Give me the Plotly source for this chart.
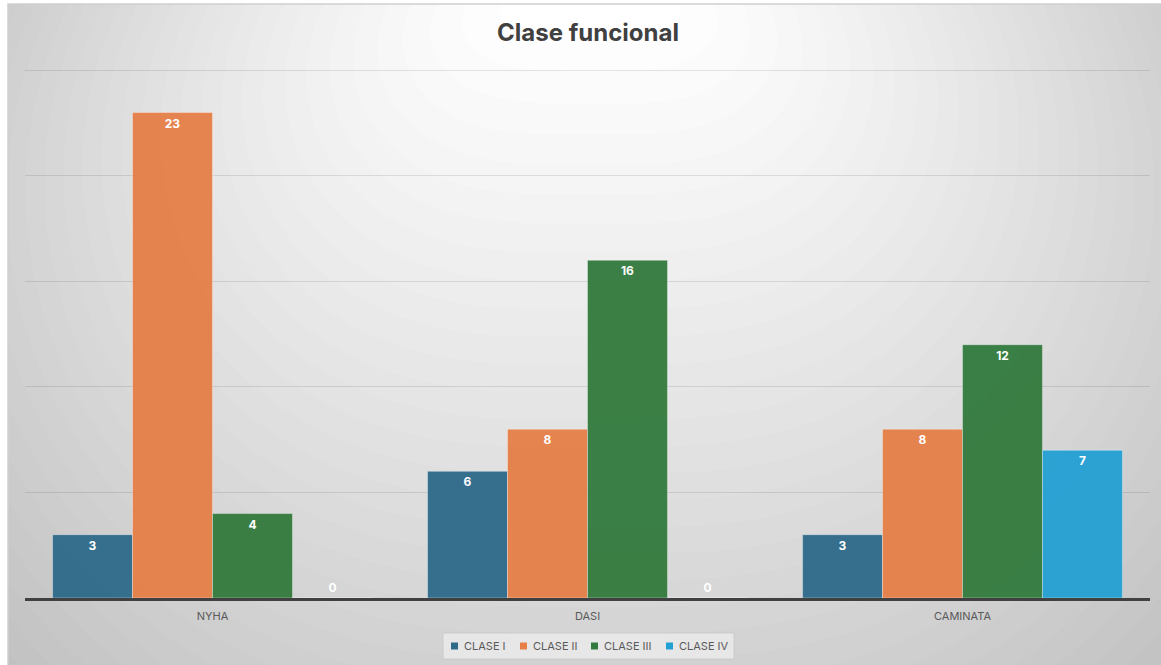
import base64
import struct
import zlib

import numpy as np
import plotly.graph_objects as go

# ---- data ----
categories = ["NYHA", "DASI", "CAMINATA"]
series_names = ["CLASE I", "CLASE II", "CLASE III", "CLASE IV"]
clase_i = [3, 6, 3]
clase_ii = [23, 8, 8]
clase_iii = [4, 16, 12]
clase_iv = [0, 0, 7]
series_values = [clase_i, clase_ii, clase_iii, clase_iv]
series_colors = ["#2e6a8a", "#e67f48", "#327a3d", "#23a0d3"]

# ---- figure geometry (pixels) ----
W, H = 1161, 665
Y_MAX = 25.3
ML, MR, MB = 25, 11, 67
PH = 534
MT = H - MB - PH
PW = W - ML - MR
BOX = (8, 4, W, H)  # chart frame: left, top, right, bottom


def px_to_paper_x(px):
    return (px - ML) / PW


def px_to_paper_y(py):
    return (H - MB - py) / PH


# ---- radial background: wide bright core at the top, rings drifting downward ----
def radial_background(x0, y0, x1, y1):
    xs = np.arange(x0, x1) + 0.5
    ys = np.arange(y0, y1) + 0.5
    X, Y = np.meshgrid(xs, ys)
    core_half = 140.0
    dx = X - 590.0
    # smooth flattening of the horizontal distance near the centre line
    qx = np.sqrt(dx * dx + core_half * core_half) - core_half
    qy = Y - 0.0
    dy = 330.0
    R = 760.0
    a = R * R - dy * dy
    b = 2 * qy * dy
    c = -(qx * qx + qy * qy)
    t = (-b + np.sqrt(b * b - 4 * a * c)) / (2 * a)
    t = np.clip(t, 0, 1.2)
    dark = 80 * t ** 1.1
    dark = np.floor(dark / 2) * 2
    return np.clip(255 - dark, 0, 255).astype(np.uint8)


def gray_png(arr):
    h, w = arr.shape
    raw = b"".join(b"\x00" + arr[i].tobytes() for i in range(h))

    def chunk(tag, data):
        return (struct.pack(">I", len(data)) + tag + data
                + struct.pack(">I", zlib.crc32(tag + data) & 0xFFFFFFFF))

    return (b"\x89PNG\r\n\x1a\n"
            + chunk(b"IHDR", struct.pack(">IIBBBBB", w, h, 8, 0, 0, 0, 0))
            + chunk(b"IDAT", zlib.compress(raw, 9))
            + chunk(b"IEND", b""))


bg = radial_background(*BOX)
bg_uri = "data:image/png;base64," + base64.b64encode(gray_png(bg)).decode()

# ---- traces ----
fig = go.Figure()
for name, vals, col in zip(series_names, series_values, series_colors):
    fig.add_trace(go.Bar(
        name=name,
        x=categories,
        y=vals,
        text=[str(v) for v in vals],
        textposition=["outside" if v == 0 else "inside" for v in vals],
        insidetextanchor="end",
        textfont=dict(family="Inter", size=12, color="white", weight="bold"),
        outsidetextfont=dict(family="Inter", size=12, color="white", weight="bold"),
        marker=dict(color=col, opacity=0.95,
                    line=dict(color="rgba(255,255,255,0.35)", width=1)),
        cliponaxis=False,
        showlegend=False,
        hoverinfo="x+y+name",
    ))

# ---- legend (box, colour keys and labels along the bottom) ----
LEG_BOX = (443, 633, 734, 659)
LEG_KEY_X = [451, 520, 591, 666]
LEG_Y = 646
shapes = [
    dict(type="rect", xref="paper", yref="paper", layer="below",
         x0=px_to_paper_x(BOX[0]), x1=px_to_paper_x(BOX[2] + 2),
         y0=px_to_paper_y(BOX[3] + 2), y1=px_to_paper_y(BOX[1]),
         line=dict(color="#cfcfcf", width=1.5)),
    dict(type="rect", xref="paper", yref="paper", layer="above",
         x0=px_to_paper_x(LEG_BOX[0]), x1=px_to_paper_x(LEG_BOX[2]),
         y0=px_to_paper_y(LEG_BOX[3]), y1=px_to_paper_y(LEG_BOX[1]),
         fillcolor="rgba(238,238,238,0.75)",
         line=dict(color="rgba(200,200,200,0.8)", width=1)),
]
annotations = []
for name, col, kx in zip(series_names, series_colors, LEG_KEY_X):
    shapes.append(dict(type="rect", xref="paper", yref="paper", layer="above",
                       x0=px_to_paper_x(kx), x1=px_to_paper_x(kx + 7),
                       y0=px_to_paper_y(LEG_Y + 3.5), y1=px_to_paper_y(LEG_Y - 3.5),
                       fillcolor=col, line=dict(width=0)))
    annotations.append(dict(text=name, xref="paper", yref="paper",
                            x=px_to_paper_x(kx + 11), y=px_to_paper_y(LEG_Y),
                            xanchor="left", yanchor="middle", showarrow=False,
                            font=dict(family="Inter", size=11, color="#595959")))

fig.update_layout(
    width=W, height=H,
    margin=dict(l=ML, r=MR, t=MT, b=MB, autoexpand=False),
    paper_bgcolor="white",
    plot_bgcolor="rgba(0,0,0,0)",
    barmode="group",
    bargap=0.147,
    bargroupgap=0,
    title=dict(text="<b>Clase funcional</b>", x=px_to_paper_x(588), xref="paper",
               xanchor="center", y=1 - 33 / H, yanchor="middle",
               font=dict(family="Inter", size=24, color="#404040")),
    font=dict(family="Inter", color="#595959"),
    xaxis=dict(showline=True, linecolor="#404040", linewidth=2.5,
               ticks="", showgrid=False, ticklabelstandoff=6,
               tickfont=dict(family="Inter", size=11, color="#595959")),
    yaxis=dict(range=[0, Y_MAX], dtick=5, tick0=0, showticklabels=False,
               showgrid=True, gridcolor="rgba(0,0,0,0.10)", gridwidth=1,
               zeroline=False, fixedrange=True),
    images=[dict(source=bg_uri, xref="paper", yref="paper",
                 x=px_to_paper_x(BOX[0]), y=px_to_paper_y(BOX[1]),
                 sizex=(BOX[2] - BOX[0]) / PW, sizey=(BOX[3] - BOX[1]) / PH,
                 xanchor="left", yanchor="top", sizing="stretch",
                 layer="below")],
    shapes=shapes,
    annotations=annotations,
    showlegend=False,
)

fig.write_html("out.html")
